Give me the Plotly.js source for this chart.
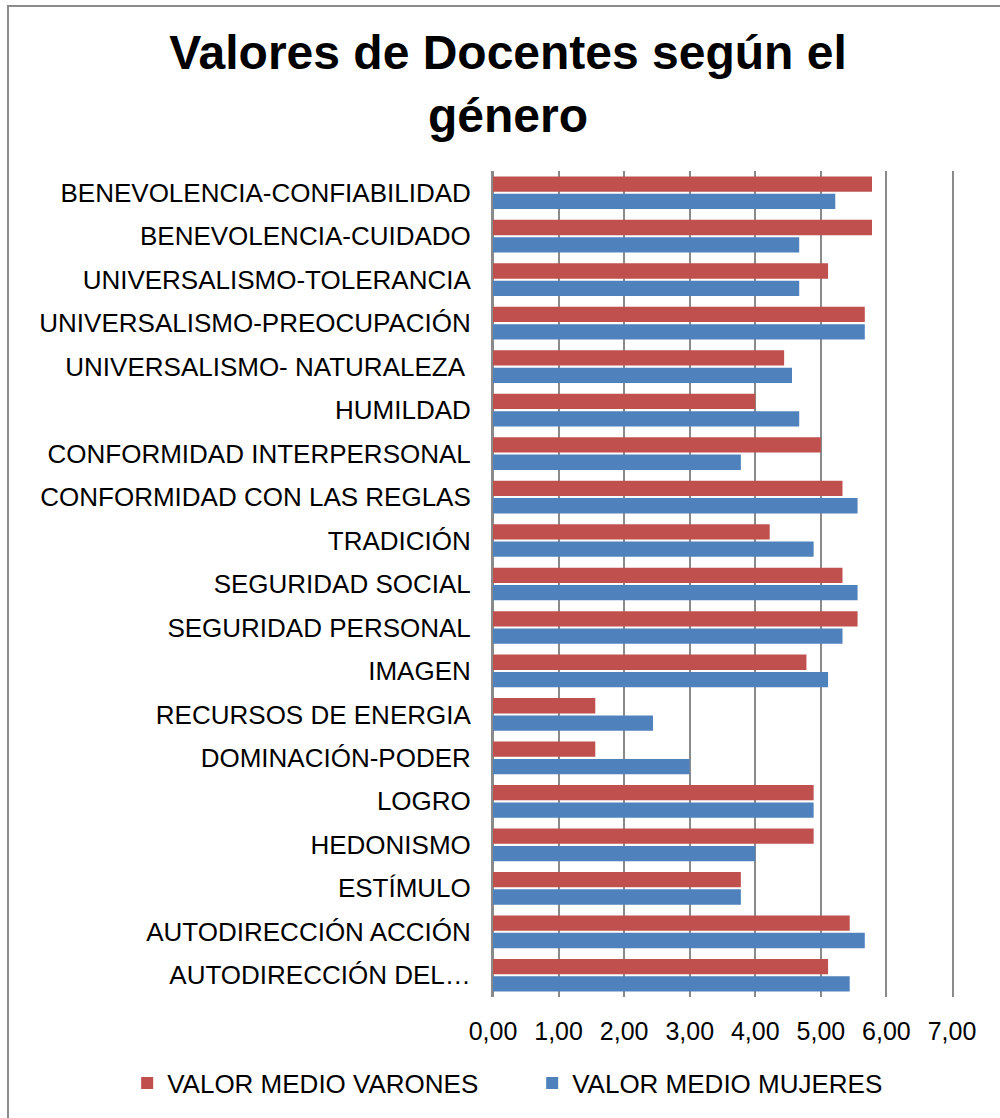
<!DOCTYPE html>
<html>
<head>
<meta charset="utf-8">
<script src="https://cdn.plot.ly/plotly-3.0.1.min.js"></script>
<style>
  html, body { margin: 0; padding: 0; background: #fff; }
  #wrap { position: relative; width: 1000px; height: 1118px; }
  #chart { position: absolute; left: 0; top: 0; width: 1000px; height: 1118px; }
  #frame { position: absolute; left: 7px; top: 5px; width: 1000px; height: 1200px;
           border-left: 2px solid #8c8c8c; border-top: 2px solid #8c8c8c; pointer-events: none; }
</style>
</head>
<body>
<div id="wrap">
  <div id="chart"></div>
  <div id="frame"></div>
</div>
<script>
const categories = [
  "BENEVOLENCIA-CONFIABILIDAD",
  "BENEVOLENCIA-CUIDADO",
  "UNIVERSALISMO-TOLERANCIA",
  "UNIVERSALISMO-PREOCUPACIÓN",
  "UNIVERSALISMO- NATURALEZA ",
  "HUMILDAD",
  "CONFORMIDAD INTERPERSONAL",
  "CONFORMIDAD CON LAS REGLAS",
  "TRADICIÓN",
  "SEGURIDAD SOCIAL",
  "SEGURIDAD PERSONAL",
  "IMAGEN",
  "RECURSOS DE ENERGIA",
  "DOMINACIÓN-PODER",
  "LOGRO",
  "HEDONISMO",
  "ESTÍMULO",
  "AUTODIRECCIÓN ACCIÓN",
  "AUTODIRECCIÓN DEL…"
];
const varones = [5.78, 5.78, 5.11, 5.67, 4.44, 4.00, 5.00, 5.33, 4.22, 5.33, 5.56, 4.78, 1.56, 1.56, 4.89, 4.89, 3.78, 5.44, 5.11];
const mujeres = [5.22, 4.67, 4.67, 5.67, 4.56, 4.67, 3.78, 5.56, 4.89, 5.56, 5.33, 5.11, 2.44, 3.00, 4.89, 4.00, 3.78, 5.67, 5.44];
const tickVals = [0, 1, 2, 3, 4, 5, 6, 7];
const tickLabels = ["0,00", "1,00", "2,00", "3,00", "4,00", "5,00", "6,00", "7,00"];
const seriesNames = ["VALOR MEDIO VARONES", "VALOR MEDIO MUJERES"];
const chartTitle = "Valores de Docentes según el<br>género";

const FONT = "Liberation Sans, Arial, sans-serif";
const data = [
  { type: "bar", orientation: "h", name: seriesNames[0], y: categories, x: varones,
    marker: { color: "#C0504D" }, hoverinfo: "x+y" },
  { type: "bar", orientation: "h", name: seriesNames[1], y: categories, x: mujeres,
    marker: { color: "#4F81BD" }, hoverinfo: "x+y" }
];
const layout = {
  width: 1000, height: 1118,
  paper_bgcolor: "#fff", plot_bgcolor: "#fff",
  font: { family: FONT, color: "#000", size: 24 },
  title: { text: chartTitle, font: { family: FONT, size: 48, color: "#000", weight: "bold" },
           x: 0.508, xanchor: "center", xref: "container", y: 0.938, yanchor: "top", yref: "container" },
  margin: { l: 493, r: 48, t: 171, b: 120, pad: 0 },
  barmode: "group", bargap: 0.2, bargroupgap: 0.12,
  xaxis: { range: [0, 7], tickvals: tickVals, ticktext: tickLabels, showgrid: true,
           gridcolor: "#8a8a8a", gridwidth: 2, zeroline: true, zerolinecolor: "#8a8a8a", zerolinewidth: 2,
           ticks: "", ticklabelstandoff: 17, tickfont: { size: 25 }, showline: false, fixedrange: true },
  yaxis: { type: "category", range: [18.5, -0.5], showgrid: false, zeroline: false,
           ticks: "", ticklabelstandoff: 15, tickfont: { size: 26 },
           showline: true, mirror: true, linecolor: "#8a8a8a", linewidth: 2, fixedrange: true },
  showlegend: true,
  legend: { orientation: "h", x: -0.797, xanchor: "left", y: -0.103, yanchor: "middle",
            font: { size: 26 }, entrywidth: 360, entrywidthmode: "pixels", itemwidth: 30 }
};
Plotly.newPlot("chart", data, layout, { displayModeBar: false, staticPlot: true });
</script>
</body>
</html>
